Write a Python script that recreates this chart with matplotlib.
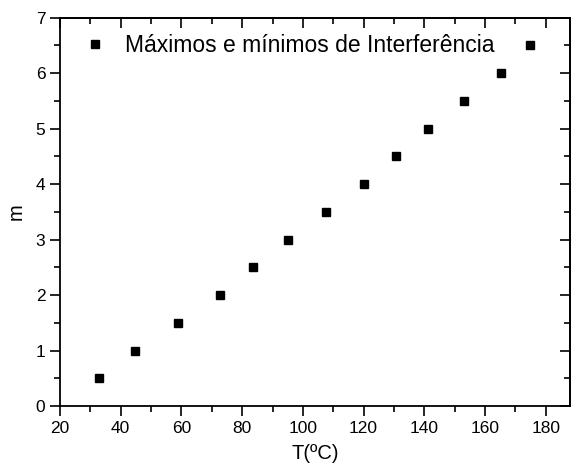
import numpy as np
import matplotlib.pyplot as plt
from matplotlib.ticker import MultipleLocator

plt.rcParams['font.family'] = ['Liberation Sans', 'DejaVu Sans']

# temperatura (C) e ordem m
temp = [32.8, 44.6, 58.9, 72.7, 83.7, 95.1, 107.6, 120.0, 130.7, 141.2, 153.2, 165.2, 174.8]
m = [0.5, 1.0, 1.5, 2.0, 2.5, 3.0, 3.5, 4.0, 4.5, 5.0, 5.5, 6.0, 6.5]
label = 'Máximos e mínimos de Interferência'

fig = plt.figure(figsize=(5.71, 4.65), dpi=100)
ax = fig.add_axes([60/571, 1-406/465, 510/571, (406-17.7)/465])

ax.plot(temp, m, linestyle='none', marker='s', color='k', markersize=6, label=label)

ax.set_xlim(20, 188)
ax.set_ylim(0, 7)
ax.xaxis.set_major_locator(MultipleLocator(20))
ax.xaxis.set_minor_locator(MultipleLocator(10))
ax.yaxis.set_major_locator(MultipleLocator(1))
ax.yaxis.set_minor_locator(MultipleLocator(0.5))

for s in ax.spines.values():
    s.set_linewidth(1.3)

ax.tick_params(which='major', direction='out', length=7, width=1.2, labelsize=12.5)
ax.tick_params(which='minor', direction='out', length=4, width=1.2)

# top/right: ticks pointing inside, no labels
top = ax.secondary_xaxis('top')
top.xaxis.set_major_locator(MultipleLocator(20))
top.xaxis.set_minor_locator(MultipleLocator(10))
top.tick_params(which='major', direction='in', length=7, width=1.2, labeltop=False)
top.tick_params(which='minor', direction='in', length=4, width=1.2)
right = ax.secondary_yaxis('right')
right.yaxis.set_major_locator(MultipleLocator(1))
right.yaxis.set_minor_locator(MultipleLocator(0.5))
right.tick_params(which='major', direction='in', length=7, width=1.2, labelright=False)
right.tick_params(which='minor', direction='in', length=4, width=1.2)
top.spines['top'].set_linewidth(1.3)
right.spines['right'].set_linewidth(1.3)

ax.set_xlabel('T(ºC)', fontsize=14.5, labelpad=6)
ax.set_ylabel('m', fontsize=14.5, labelpad=7)

ax.legend(loc='center left', frameon=False, fontsize=16.5, handlelength=1.0,
          handletextpad=0.8, borderpad=0, borderaxespad=0,
          bbox_to_anchor=(0.046, 0.928))

fig.savefig('out.png', dpi=100)
